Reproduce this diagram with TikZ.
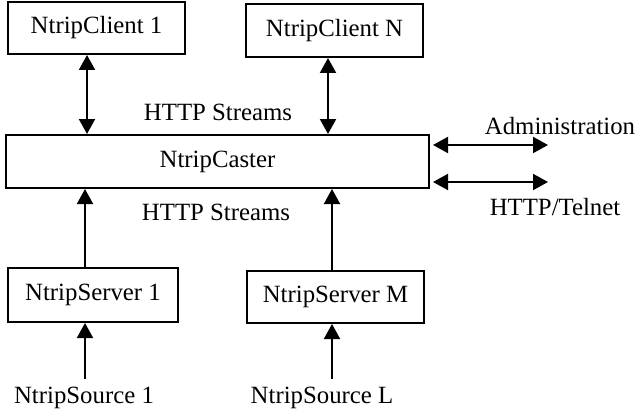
\documentclass[tikz,border=0pt]{standalone}
\usepackage{fontspec}
\setmainfont{Liberation Serif}
\usetikzlibrary{arrows.meta}
\begin{document}
\begin{tikzpicture}[x=1pt,y=-1pt,
  box/.style={draw, line width=2pt, inner sep=0pt, font=\fontsize{24.8}{28}\selectfont},
  lbl/.style={inner sep=0pt, font=\fontsize{24.8}{28}\selectfont},
  conn/.style={line width=2pt, -{Triangle[width=16pt,length=15pt]}},
  dbl/.style={line width=2pt, {Triangle[width=16pt,length=15pt]}-{Triangle[width=16pt,length=15pt]}}]
\useasboundingbox (0,0) rectangle (637,412);
\node[box, minimum width=177pt, minimum height=52pt] (client1) at (96.5,28) {NtripClient 1};
\node[box, minimum width=177pt, minimum height=53pt] (clientN) at (334.5,30.5) {NtripClient N};
\node[box, minimum width=423pt, minimum height=53pt] (caster) at (217.5,161.5) {NtripCaster};
\node[box, minimum width=170pt, minimum height=54pt] (server1) at (93,295) {NtripServer 1};
\node[box, minimum width=177pt, minimum height=52pt] (serverM) at (335.5,297) {NtripServer M};
\node[lbl] (source1) at (84,398) {NtripSource 1};
\node[lbl] (sourceL) at (322,398) {NtripSource L};
\node[lbl] (streamsTop) at (218,112) {HTTP Streams};
\node[lbl] (streamsBot) at (216,212) {HTTP Streams};
\node[lbl] (admin) at (560,126) {Administration};
\node[lbl] (telnet) at (555,207) {HTTP/Telnet};
\coordinate (xa) at (87,0);
\coordinate (xb) at (328,0);
\coordinate (xc) at (85,0);
\coordinate (xd) at (332,0);
\coordinate (a1) at (548,145);
\coordinate (a2) at (548,182);
\draw[dbl] (client1.south -| xa) -- (caster.north -| xa);
\draw[dbl] (clientN.south -| xb) -- (caster.north -| xb);
\draw[conn] (server1.north -| xc) -- (caster.south -| xc);
\draw[conn] (serverM.north -| xd) -- (caster.south -| xd);
\draw[conn] (source1.north -| xc) ++(0,-8) -- (server1.south -| xc);
\draw[conn] (sourceL.north -| xd) ++(0,-8) -- (serverM.south -| xd);
\draw[dbl, shorten <=3pt] (caster.east |- a1) -- (a1);
\draw[dbl, shorten <=3pt] (caster.east |- a2) -- (a2);
\end{tikzpicture}
\end{document}
